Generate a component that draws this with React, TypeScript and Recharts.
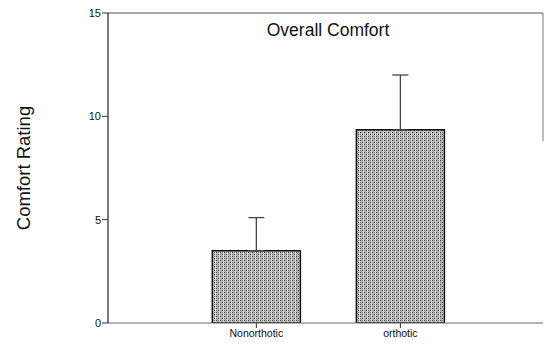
import React from 'react';
import { BarChart, Bar, XAxis, YAxis, ErrorBar, ReferenceLine } from 'recharts';

const categories = ['Nonorthotic', 'orthotic'];
const positions = [1, 2];
const means = [3.5, 9.35];
const upperErrors = [1.6, 2.65];
const yTicks = [0, 5, 10, 15];

const data = categories.map((name, i) => ({
  name,
  x: positions[i],
  mean: means[i],
  err: [0, upperErrors[i]],
}));

const font = 'Arial, "Liberation Sans", Helvetica, sans-serif';

export default function App() {
  return (
    <div style={{ position: 'absolute', left: 0, top: 0, width: 545, height: 347, background: '#fff' }}>
      <BarChart
        width={545}
        height={347}
        data={data}
        margin={{ top: 13, right: 2, bottom: 0, left: 68 }}
      >
        <defs>
          <pattern id="stipple" width="4" height="4" patternUnits="userSpaceOnUse">
            <rect width="4" height="4" fill="#b8b8b8" />
            <rect x="0" y="0" width="1" height="1" fill="#444" />
            <rect x="2" y="2" width="1" height="1" fill="#444" />
            <rect x="2" y="0" width="1" height="1" fill="#7a7a7a" />
            <rect x="0" y="2" width="1" height="1" fill="#7a7a7a" />
            <rect x="3" y="0" width="1" height="4" fill="#dadada" />
          </pattern>
        </defs>
        <XAxis
          dataKey="x"
          type="number"
          domain={[-0.03, 2.99]}
          ticks={positions}
          tickFormatter={(v: number) => categories[positions.indexOf(v)] ?? ''}
          height={24}
          axisLine={{ stroke: '#666', strokeWidth: 1 }}
          tickLine={{ stroke: '#333' }}
          tickSize={5}
          tick={{ fill: '#111', fontSize: 10.5, fontFamily: font }}
          allowDataOverflow
        />
        <YAxis
          domain={[0, 15]}
          ticks={yTicks}
          width={40}
          axisLine={{ stroke: '#222', strokeWidth: 1.2 }}
          tickLine={{ stroke: '#333' }}
          tickSize={6}
          tickMargin={1}
          tick={{ fill: '#111', fontSize: 11, fontFamily: font }}
          allowDataOverflow
        />
        <ReferenceLine y={15} stroke="#555" strokeWidth={1} />
        <ReferenceLine
          segment={[{ x: 2.99, y: 15 }, { x: 2.99, y: 8.8 }]}
          stroke="#777"
          strokeWidth={1}
        />
        <Bar
          dataKey="mean"
          barSize={88}
          fill="url(#stipple)"
          stroke="#111"
          strokeWidth={1.5}
          isAnimationActive={false}
        >
          <ErrorBar dataKey="err" width={8} stroke="#444" strokeWidth={1.3} direction="y" />
        </Bar>
      </BarChart>
      <div
        style={{
          position: 'absolute',
          left: 228,
          top: 19,
          width: 200,
          textAlign: 'center',
          fontFamily: font,
          fontSize: 17.5,
          color: '#111',
          lineHeight: '22px',
        }}
      >
        Overall Comfort
      </div>
      <div
        style={{
          position: 'absolute',
          left: 24 - 80,
          top: 168 - 11,
          width: 160,
          textAlign: 'center',
          fontFamily: font,
          fontSize: 18.5,
          color: '#111',
          lineHeight: '22px',
          transform: 'rotate(-90deg)',
        }}
      >
        Comfort Rating
      </div>
    </div>
  );
}
